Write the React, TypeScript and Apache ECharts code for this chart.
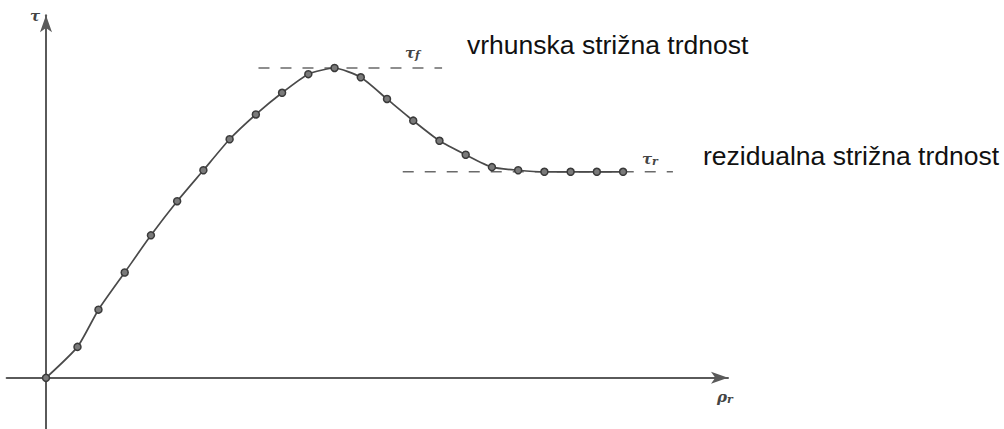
import React, { useEffect, useRef } from "react";
import * as echarts from "echarts";

// Shear displacement (mm) and shear stress (kPa) of the direct shear test
const displacement = [0, 0.6, 1.0, 1.5, 2.0, 2.5, 3.0, 3.5, 4.0, 4.5, 5.0, 5.5, 6.0, 6.5, 7.0, 7.5, 8.0, 8.5, 9.0, 9.5, 10.0, 10.5, 11.0];
const shearStress = [0, 10, 22, 34, 46, 57, 67, 77, 85, 92, 98, 100, 97, 90, 83, 76.5, 72, 68, 67, 66.5, 66.5, 66.5, 66.5];

// Peak and residual strength reference lines
const peakStrength = 100;
const peakLineX = [4.05, 7.55];
const residualStrength = 66.5;
const residualLineX = [6.8, 11.95];

const peakText = "vrhunska strižna trdnost";
const residualText = "rezidualna strižna trdnost";

const AXIS_COLOR = "#5a5a5a";
const CURVE_COLOR = "#4a4a4a";

export default function App() {
  const ref = useRef<HTMLDivElement>(null);

  useEffect(() => {
    if (!ref.current) return;
    const chart = echarts.init(ref.current, null, { renderer: "svg" });

    const greek = (main: string, sub: string) => ({
      text: `{m|${main}}{s|${sub}}`,
      rich: {
        m: { fontFamily: "DejaVu Serif", fontStyle: "italic", fontWeight: "bold", fontSize: 15, fill: "#444" },
        s: { fontFamily: "DejaVu Serif", fontStyle: "italic", fontWeight: "bold", fontSize: 11, fill: "#444", padding: [6, 0, 0, 0] },
      },
    });

    chart.setOption({
      animation: false,
      backgroundColor: "#fff",
      grid: { left: 6.66, right: 276, top: 15.3, bottom: 0 },
      xAxis: {
        type: "value",
        min: -0.75,
        max: 13,
        axisLine: {
          show: true,
          onZero: true,
          symbol: ["none", "arrow"],
          symbolSize: [9, 17],
          lineStyle: { color: AXIS_COLOR, width: 2 },
        },
        axisTick: { show: false },
        axisLabel: { show: false },
        splitLine: { show: false },
      },
      yAxis: {
        type: "value",
        min: -16.5,
        max: 117,
        axisLine: {
          show: true,
          onZero: true,
          symbol: ["none", "arrow"],
          symbolSize: [9, 17],
          lineStyle: { color: AXIS_COLOR, width: 2 },
        },
        axisTick: { show: false },
        axisLabel: { show: false },
        splitLine: { show: false },
      },
      series: [
        {
          type: "line",
          data: peakLineX.map((x) => [x, peakStrength]),
          symbol: "none",
          lineStyle: { color: "#6a6a6a", width: 1.6, type: [11, 11] },
          z: 1,
        },
        {
          type: "line",
          data: residualLineX.map((x) => [x, residualStrength]),
          symbol: "none",
          lineStyle: { color: "#6a6a6a", width: 1.6, type: [11, 11] },
          z: 1,
        },
        {
          type: "line",
          data: displacement.map((x, i) => [x, shearStress[i]]),
          smooth: 0.2,
          symbol: "circle",
          symbolSize: 7,
          lineStyle: { color: CURVE_COLOR, width: 1.7 },
          itemStyle: { color: "#7a7a7a", borderColor: "#3a3a3a", borderWidth: 1.5 },
          z: 3,
        },
      ],
      graphic: [
        { type: "text", x: 30, y: 7, style: greek("τ", "") },
        { type: "text", x: 405, y: 44, style: greek("τ", "f") },
        { type: "text", x: 642, y: 150, style: greek("τ", "r") },
        { type: "text", x: 717, y: 388, style: greek("ρ", "r") },
        {
          type: "text",
          x: 467,
          y: 45,
          style: {
            text: peakText,
            fontFamily: "Liberation Sans, Arial, sans-serif",
            fontSize: 26.5,
            fill: "#111",
            verticalAlign: "middle",
          },
        },
        {
          type: "text",
          x: 703,
          y: 156,
          style: {
            text: residualText,
            fontFamily: "Liberation Sans, Arial, sans-serif",
            fontSize: 26.5,
            fill: "#111",
            verticalAlign: "middle",
          },
        },
      ],
    });

    return () => chart.dispose();
  }, []);

  return (
    <div
      ref={ref}
      style={{ position: "fixed", left: 0, top: 0, width: 1004, height: 429 }}
    />
  );
}
